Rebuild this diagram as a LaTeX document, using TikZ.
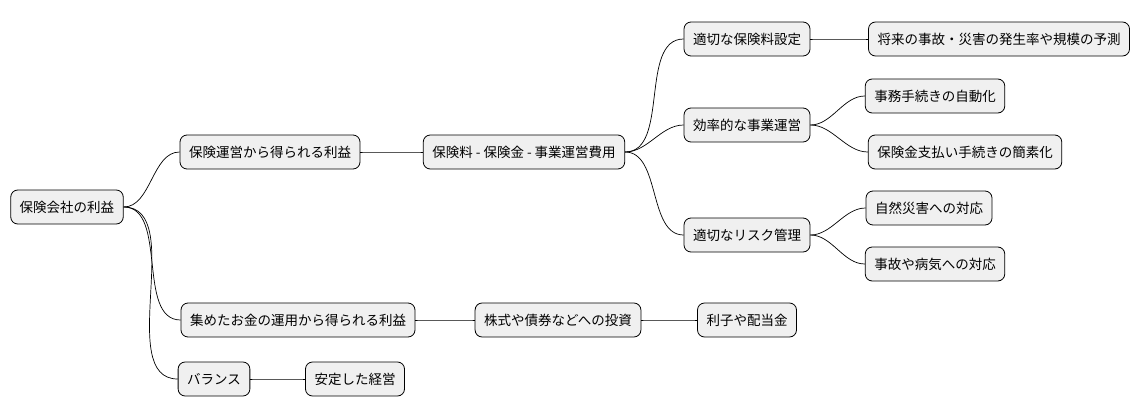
\documentclass[tikz,border=0pt]{standalone}
\usepackage{fontspec}
\setmainfont{Noto Sans CJK JP}
\begin{document}
\begin{tikzpicture}[x=1pt,y=-1pt]
		\tikzstyle{topic}=[draw,fill=black!6,rounded corners=7pt,line width=0.8pt,minimum height=34pt,inner xsep=9pt,font=\fontsize{13.5}{16}\selectfont]
		\tikzstyle{link}=[line width=0.7pt,out=0,in=180,looseness=0.9]
		\useasboundingbox (0,0) rectangle (1146,415);
		
		\node[topic](root) at (67,207){保険会社の利益};
		
		\node[topic](ops) at (270,152){保険運営から得られる利益};
		\node[topic](calc) at (524,152){保険料 - 保険金 - 事業運営費用};
		\node[topic](rate) at (747,39){適切な保険料設定};
		\node[topic](pred) at (999,39){将来の事故・災害の発生率や規模の予測};
		\node[topic](eff) at (747,125){効率的な事業運営};
		\node[topic](auto) at (935,96){事務手続きの自動化};
		\node[topic](simp) at (965,152){保険金支払い手続きの簡素化};
		\node[topic](risk) at (747,235){適切なリスク管理};
		\node[topic](nat) at (929,208){自然災害への対応};
		\node[topic](acc) at (935,264){事故や病気への対応};
		
		\node[topic](inv) at (298,320){集めたお金の運用から得られる利益};
		\node[topic](stock) at (558,320){株式や債券などへの投資};
		\node[topic](div) at (747,320){利子や配当金};
		
		\node[topic](bal) at (214,379){バランス};
		\node[topic](stab) at (355,379){安定した経営};
		
		\draw[link] (root.east) to (ops.west);
		\draw[link] (root.east) to (inv.west);
		\draw[link] (root.east) to (bal.west);
		
		\draw[link] (ops.east) to (calc.west);
		\draw[link] (calc.east) to (rate.west);
		\draw[link] (calc.east) to (eff.west);
		\draw[link] (calc.east) to (risk.west);
		\draw[link] (rate.east) to (pred.west);
		\draw[link] (eff.east) to (auto.west);
		\draw[link] (eff.east) to (simp.west);
		\draw[link] (risk.east) to (nat.west);
		\draw[link] (risk.east) to (acc.west);
		
		\draw[link] (inv.east) to (stock.west);
		\draw[link] (stock.east) to (div.west);
		\draw[link] (bal.east) to (stab.west);
\end{tikzpicture}
\end{document}
